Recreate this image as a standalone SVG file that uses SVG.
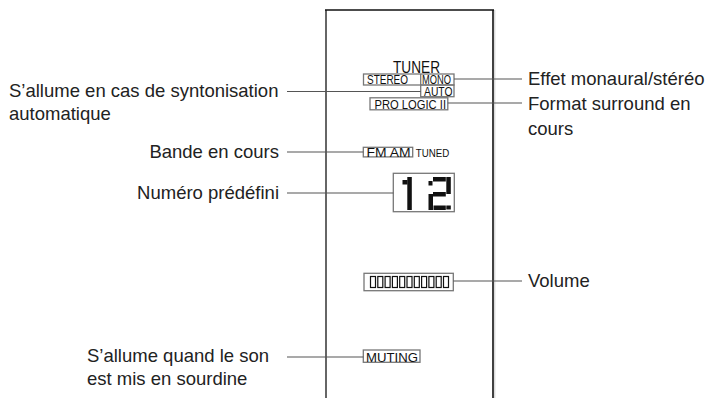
<svg xmlns="http://www.w3.org/2000/svg" width="719" height="398" viewBox="0 0 719 398">
<style>
.lbl{font-family:"Liberation Sans",Arial,sans-serif;font-size:18.5px;fill:#222}
.disp{font-family:"Liberation Sans",Arial,sans-serif;fill:#111}
.box{fill:none;stroke:#777;stroke-width:1.3}
.seg{fill:#111}
.conn line{stroke:#555;stroke-width:1.1}
</style>
<rect width="719" height="398" fill="#fff"/>
<g id="frame">
<line x1="326" y1="10" x2="326" y2="398" stroke="#666" stroke-width="2"/>
<line x1="325" y1="10" x2="494" y2="10" stroke="#111" stroke-width="1.6"/>
<line x1="493" y1="10" x2="493" y2="398" stroke="#111" stroke-width="1.6"/>
<line x1="494.8" y1="10" x2="494.8" y2="398" stroke="#ccc" stroke-width="1"/>
</g>
<g id="tuner">
<text class="disp" x="393" y="73" font-size="16.5" textLength="47" lengthAdjust="spacingAndGlyphs">TUNER</text>
</g>
<g id="stereo-mono">
<rect class="box" x="363.5" y="74" width="90.5" height="11"/>
<line x1="420.7" y1="74" x2="420.7" y2="85" stroke="#777" stroke-width="1.3"/>
<text class="disp" x="367" y="84.3" font-size="13" textLength="41" lengthAdjust="spacingAndGlyphs">STEREO</text>
<text class="disp" x="422" y="84.3" font-size="13" textLength="29" lengthAdjust="spacingAndGlyphs">MONO</text>
</g>
<g id="auto">
<rect class="box" x="420.7" y="85" width="33.3" height="11.7"/>
<text class="disp" x="424" y="96" font-size="13" textLength="28.5" lengthAdjust="spacingAndGlyphs">AUTO</text>
</g>
<g id="prologic">
<rect class="box" x="370" y="97.8" width="77.8" height="12"/>
<text class="disp" x="374.5" y="109.2" font-size="13" textLength="71.5" lengthAdjust="spacingAndGlyphs">PRO LOGIC II</text>
</g>
<g id="band">
<rect class="box" x="363.3" y="147.3" width="49.4" height="9.6"/>
<text class="disp" x="366.5" y="156.5" font-size="12.5" textLength="44" lengthAdjust="spacingAndGlyphs">FM AM</text>
<text class="disp" x="415.7" y="156.5" font-size="10.5" textLength="33.5" lengthAdjust="spacingAndGlyphs">TUNED</text>
</g>
<g id="preset">
<rect class="box" x="393.3" y="173.3" width="61" height="38.4" stroke-width="1.5"/>
<rect class="seg" x="402.5" y="180" width="5" height="4.5"/>
<rect class="seg" x="407.3" y="177" width="4.5" height="33"/>
<rect class="seg" x="428.5" y="181" width="4" height="4.5"/>
<rect class="seg" x="433" y="177" width="12.8" height="4.5"/>
<rect class="seg" x="446.3" y="177" width="4.5" height="17"/>
<rect class="seg" x="433" y="192" width="12.8" height="4.5"/>
<rect class="seg" x="428.5" y="194" width="4.5" height="16"/>
<rect class="seg" x="433.5" y="205.5" width="12.3" height="4.5"/>
<rect class="seg" x="446.3" y="205.5" width="4.5" height="4"/>
</g>
<g id="volume">
<rect class="box" x="364" y="273.3" width="89.3" height="17.4"/>
<g fill="none" stroke="#111" stroke-width="1.2">
<rect x="370.5" y="276.5" width="5" height="11"/>
<rect x="377.8" y="276.5" width="5" height="11"/>
<rect x="385.1" y="276.5" width="5" height="11"/>
<rect x="392.4" y="276.5" width="5" height="11"/>
<rect x="399.7" y="276.5" width="5" height="11"/>
<rect x="407" y="276.5" width="5" height="11"/>
<rect x="414.3" y="276.5" width="5" height="11"/>
<rect x="421.6" y="276.5" width="5" height="11"/>
<rect x="428.9" y="276.5" width="5" height="11"/>
<rect x="436.2" y="276.5" width="5" height="11"/>
<rect x="443.5" y="276.5" width="5" height="11"/>
</g>
</g>
<g id="muting">
<rect class="box" x="363.3" y="350" width="56.7" height="12.3"/>
<text class="disp" x="366" y="361.5" font-size="13" textLength="52" lengthAdjust="spacingAndGlyphs">MUTING</text>
</g>
<g class="conn" id="connectors">
<line x1="287" y1="91.5" x2="420.7" y2="91.5"/>
<line x1="287" y1="152" x2="363.3" y2="152"/>
<line x1="287" y1="193" x2="393.3" y2="193"/>
<line x1="287" y1="357" x2="363.3" y2="357"/>
<line x1="454" y1="79" x2="522" y2="79"/>
<line x1="447.8" y1="103" x2="522" y2="103"/>
<line x1="453.3" y1="281" x2="522" y2="281"/>
</g>
<g id="labels">
<text class="lbl" x="9" y="97">S’allume en cas de syntonisation</text>
<text class="lbl" x="9" y="119.5">automatique</text>
<text class="lbl" x="279" y="158" text-anchor="end">Bande en cours</text>
<text class="lbl" x="279" y="199" text-anchor="end">Numéro prédéfini</text>
<text class="lbl" x="87" y="362">S’allume quand le son</text>
<text class="lbl" x="87" y="384.5">est mis en sourdine</text>
<text class="lbl" x="528" y="85">Effet monaural/stéréo</text>
<text class="lbl" x="528" y="110">Format surround en</text>
<text class="lbl" x="528" y="135">cours</text>
<text class="lbl" x="528" y="287">Volume</text>
</g>
</svg>
